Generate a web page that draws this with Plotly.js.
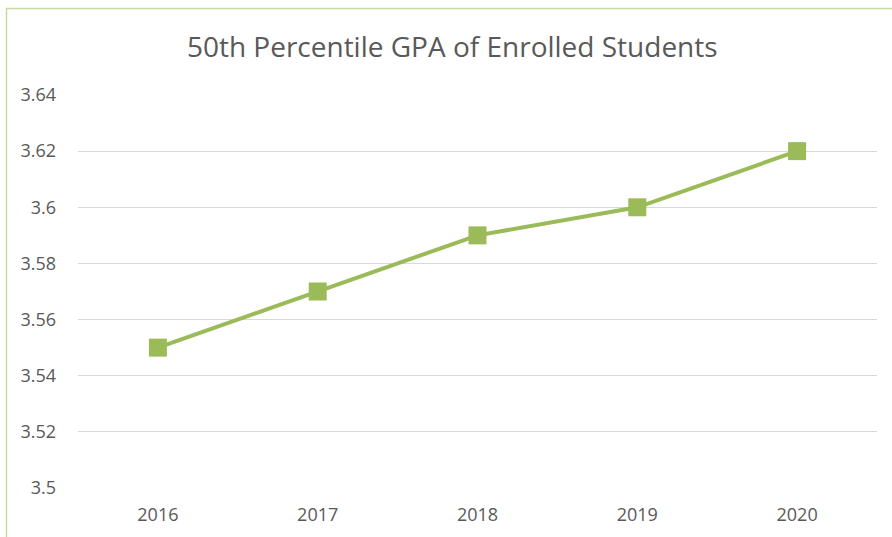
<!DOCTYPE html>
<html>
<head>
<meta charset="utf-8">
<script src="https://cdn.plot.ly/plotly-3.0.1.min.js"></script>
<style>html,body{margin:0;padding:0;background:#fff;}#chart{width:892px;height:537px;}</style>
</head>
<body>
<div id="chart"></div>
<script>
const years = ["2016", "2017", "2018", "2019", "2020"];
const gpa = [3.55, 3.57, 3.59, 3.60, 3.62];
const yTicks = [3.5, 3.52, 3.54, 3.56, 3.58, 3.6, 3.62, 3.64];
const yTickLabels = ["3.5", "3.52", "3.54", "3.56", "3.58", "3.6", "3.62", "3.64"];

const font = "'Open Sans', 'Liberation Sans', sans-serif";

Plotly.newPlot("chart", [{
  x: years,
  y: gpa,
  type: "scatter",
  mode: "lines+markers",
  line: {color: "#9bbb59", width: 4},
  marker: {symbol: "square", size: 18, color: "#9bbb59"},
  hoverinfo: "x+y"
}], {
  width: 892,
  height: 537,
  margin: {l: 78, r: 15, t: 95, b: 49},
  paper_bgcolor: "#ffffff",
  plot_bgcolor: "#ffffff",
  showlegend: false,
  title: {
    text: "50th Percentile GPA of Enrolled Students",
    font: {family: font, size: 28, color: "#595959"},
    x: 0.507, xanchor: "center",
    y: 0.912, yanchor: "middle"
  },
  xaxis: {
    type: "category",
    range: [-0.5, 4.5],
    showgrid: false,
    zeroline: false,
    showline: false,
    ticks: "",
    tickfont: {family: font, size: 18, color: "#595959"},
    ticklabelstandoff: 14
  },
  yaxis: {
    range: [3.5, 3.64],
    tickvals: yTicks,
    ticktext: yTickLabels,
    showgrid: true,
    gridcolor: "#d9d9d9",
    gridwidth: 1.3,
    zeroline: false,
    showline: false,
    ticks: "",
    tickfont: {family: font, size: 18, color: "#595959"},
    ticklabelstandoff: 21
  },
  shapes: [{
    type: "rect", xref: "paper", yref: "paper",
    x0: (6.5 - 78) / 799, x1: 2, y0: -1, y1: (488 - 8.5) / 393,
    line: {color: "#c4dd9f", width: 1.5},
    fillcolor: "rgba(0,0,0,0)",
    layer: "below"
  }]
}, {displayModeBar: false, staticPlot: false});
</script>
</body>
</html>
